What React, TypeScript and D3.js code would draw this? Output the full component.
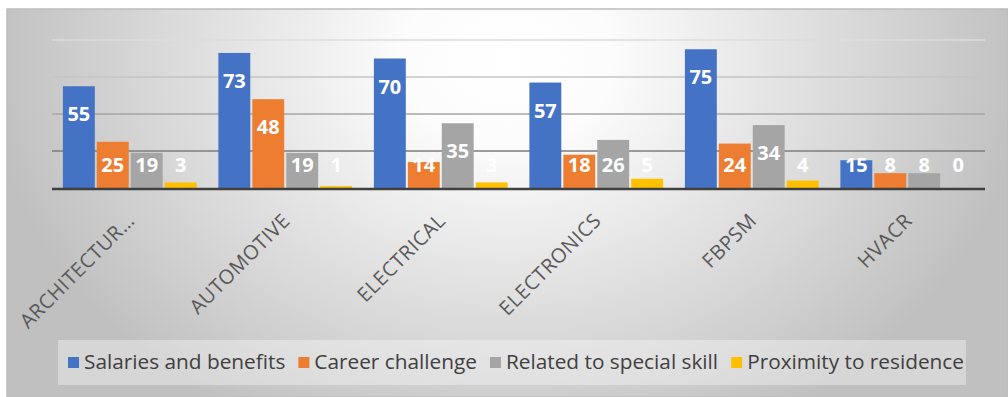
import React from "react";
import * as d3 from "d3";

const categories = ["ARCHITECTUR…", "AUTOMOTIVE", "ELECTRICAL", "ELECTRONICS", "FBPSM", "HVACR"];
const seriesNames = ["Salaries and benefits", "Career challenge", "Related to special skill", "Proximity to residence"];
const salaries = [55, 73, 70, 57, 75, 15];
const career = [25, 48, 14, 18, 24, 8];
const specialSkill = [19, 19, 35, 26, 34, 8];
const proximity = [3, 1, 3, 5, 4, 0];
const yTicks = [0, 20, 40, 60, 80];

const seriesValues = [salaries, career, specialSkill, proximity];
const colors = ["#4472c4", "#ed7d31", "#a5a5a5", "#ffc000"];
const gridColors = ["#404040", "#7c7c7c", "#a6a6a6", "#c4c4c4", "#dcdcdc"];

const W = 1008;
const H = 397;
const plot = { left: 52, right: 985, top: 40, bottom: 188 };

const FONT = "'Open Sans', 'DejaVu Sans', sans-serif";
const legendFontSize = 20.8;

function measure(text: string, font: string): number {
  if (typeof document === "undefined") return text.length * 10;
  const c = document.createElement("canvas");
  const ctx = c.getContext("2d");
  if (!ctx) return text.length * 10;
  ctx.font = font;
  return ctx.measureText(text).width;
}

export default function App() {
  const x0 = d3.scaleBand<string>().domain(categories).range([plot.left, plot.right]).padding(0);
  const bw = x0.bandwidth();
  const x1 = d3
    .scaleBand<string>()
    .domain(seriesNames)
    .range([bw * 0.07, bw * 0.93])
    .paddingInner(0.06)
    .paddingOuter(0);
  const y = d3.scaleLinear().domain([0, 80]).range([plot.bottom, plot.top]);

  // legend layout
  const markerSize = 11;
  const markerGap = 5;
  const itemGap = 13;
  const widths = seriesNames.map((s) => measure(s, `${legendFontSize}px ${FONT}`));
  const itemWidths = widths.map((w) => markerSize + markerGap + w);
  const totalW = d3.sum(itemWidths) + itemGap * (seriesNames.length - 1);
  const legendCenter = 516;
  let cursor = legendCenter - totalW / 2;
  const legendItems = seriesNames.map((s, i) => {
    const it = { name: s, x: cursor, color: colors[i] };
    cursor += itemWidths[i] + itemGap;
    return it;
  });
  const legendStart = legendCenter - totalW / 2;
  const legendEnd = legendCenter + totalW / 2;

  return (
    <svg
      width={W}
      height={H}
      style={{ position: "absolute", left: 0, top: 0, background: "#ffffff" }}
      xmlns="http://www.w3.org/2000/svg"
    >
      <defs>
        <radialGradient
          id="bg"
          gradientUnits="userSpaceOnUse"
          cx={507}
          cy={60}
          r={520}
          gradientTransform="translate(507,60) scale(1,0.8) translate(-507,-60)"
        >
          <stop offset="0" stopColor="#ffffff" />
          <stop offset="0.2" stopColor="#fcfcfc" />
          <stop offset="1" stopColor="#c0c0c0" />
        </radialGradient>
      </defs>
      <rect x={7} y={9} width={W - 7} height={H - 9} fill="url(#bg)" stroke="#bdbdbd" strokeWidth={1.5} />

      {/* gridlines */}
      {yTicks.slice(1).map((t, i) => (
        <line
          key={t}
          x1={plot.left}
          x2={plot.right}
          y1={y(t)}
          y2={y(t)}
          stroke={gridColors[i + 1]}
          strokeWidth={1.5}
        />
      ))}

      {/* bars */}
      {categories.map((c, ci) => (
        <g key={c} transform={`translate(${x0(c)},0)`}>
          {seriesNames.map((s, si) => {
            const v = seriesValues[si][ci];
            const top = y(v);
            const bx = x1(s) as number;
            const labelCenter = Math.min(top + 28, 165);
            return (
              <g key={s}>
                <rect x={bx} y={top} width={x1.bandwidth()} height={plot.bottom - top} fill={colors[si]} />
                <text
                  x={bx + x1.bandwidth() / 2}
                  y={labelCenter + 7}
                  textAnchor="middle"
                  fill="#ffffff"
                  fontFamily={FONT}
                  fontWeight={700}
                  fontSize={20}
                >
                  {v}
                </text>
              </g>
            );
          })}
        </g>
      ))}

      {/* baseline */}
      <line x1={plot.left} x2={plot.right} y1={plot.bottom + 1} y2={plot.bottom + 1} stroke={gridColors[0]} strokeWidth={2.5} />

      {/* category labels */}
      {categories.map((c) => {
        const cx = (x0(c) as number) + bw / 2 + 6;
        return (
          <text
            key={c}
            transform={`translate(${cx},222) rotate(-45)`}
            textAnchor="end"
            fill="#595959"
            fontFamily={FONT}
            fontSize={20}
            letterSpacing={0.5}
          >
            {c}
          </text>
        );
      })}

      {/* legend */}
      <rect x={legendStart - 10} y={340} width={legendEnd - legendStart + 12} height={45} fill="#ffffff" fillOpacity={0.35} />
      {legendItems.map((it) => (
        <g key={it.name}>
          <rect x={it.x} y={357} width={markerSize} height={markerSize} fill={it.color} />
          <text
            x={it.x + markerSize + markerGap}
            y={369}
            fill="#404040"
            fontFamily={FONT}
            fontSize={legendFontSize}
          >
            {it.name}
          </text>
        </g>
      ))}
    </svg>
  );
}
